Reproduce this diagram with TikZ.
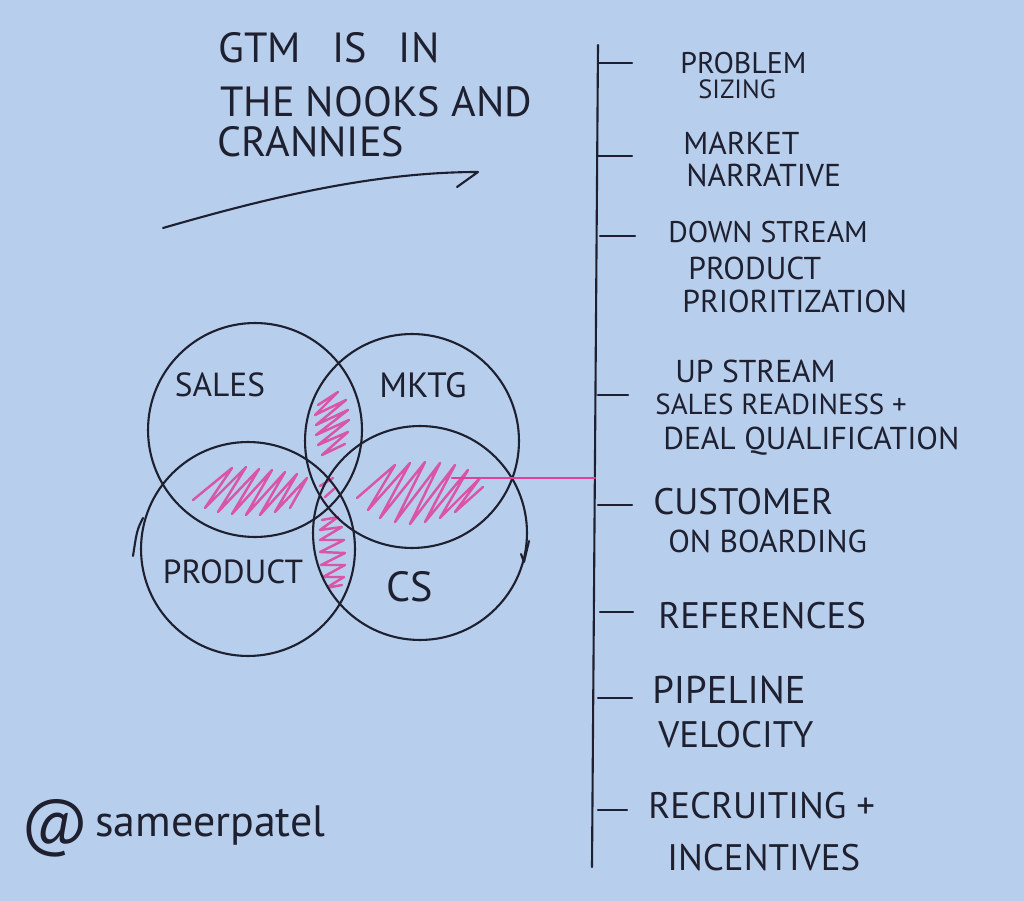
\documentclass[tikz,border=0pt]{standalone}
\usepackage{fontspec}
\setmainfont{PT Sans}
\definecolor{paper}{HTML}{B7CEEC}
\definecolor{ink}{HTML}{1E2030}
\definecolor{hl}{HTML}{E0409A}
\begin{document}
\begin{tikzpicture}[x=0.02cm,y=-0.02cm,line cap=round,line join=round,
  pen/.style={draw=ink,line width=1.2pt},
  ring/.style={circle,draw=ink,line width=1.2pt,inner sep=0pt,outer sep=0pt,minimum size=4.28cm},
  hatch/.style={draw=hl,line width=1.4pt,opacity=0.85},
  lbl/.style={text=ink,inner sep=0pt,anchor=base west,font=\fontsize{18}{20}\selectfont},
  lblbig/.style={lbl,font=\fontsize{21}{23}\selectfont},
  ttl/.style={text=ink,inner sep=0pt,anchor=base west,font=\fontsize{24}{26}\selectfont},
  venn/.style={text=ink,inner sep=0pt,font=\fontsize{19}{21}\selectfont}]
\fill[paper] (0,0) rectangle (1024,901);
\useasboundingbox (0,0) rectangle (1024,901);

% title
\node[ttl] (t1) at (218,63) {GTM\hspace{0.75em}IS\hspace{0.75em}IN};
\node[ttl] (t2) at (220,117) {THE NOOKS AND};
\node[ttl] (t3) at (217,157) {CRANNIES};
\coordinate (sw0) at (163,228);
\coordinate (sw1) at (478,172);
\coordinate (sw2) at (457,187);
\draw[pen] (sw0) .. controls (260,200) and (370,172) .. (sw1) -- (sw2);

% pink hatching
\begin{scope}
  \clip (255,430) circle [radius=107];
  \clip (248,549) circle [radius=108];
  \draw[hatch] plot coordinates {(193,500) (232,468) (205,508) (246,467) (218,512) (259,469) (232,514) (272,470) (246,515) (285,472) (260,515) (297,474) (275,512) (307,478) (290,508)};
\end{scope}
\begin{scope}
  \clip (412,441) circle [radius=107];
  \clip (420,533) circle [radius=107];
  \draw[hatch] plot coordinates {(357,498) (395,465) (368,510) (410,463) (380,518) (425,462) (395,522) (440,463) (410,524) (455,465) (425,522) (468,470) (440,518) (480,478) (455,512) (483,487)};
\end{scope}
\begin{scope}
  \clip (255,430) circle [radius=107];
  \clip (412,441) circle [radius=107];
  \draw[hatch] plot coordinates {(318,405) (338,392) (315,415) (346,400) (316,425) (348,410) (316,435) (349,420) (318,445) (348,432) (322,455) (345,444)};
\end{scope}
\begin{scope}
  \clip (248,549) circle [radius=108];
  \clip (420,533) circle [radius=107];
  \draw[hatch] plot coordinates {(322,520) (338,517) (320,530) (342,527) (320,540) (344,540) (320,552) (345,553) (321,565) (345,565) (323,577) (344,577) (326,588) (342,585)};
\end{scope}
\draw[hatch] (320,486) -- (333,478) (325,497) -- (334,489);

% circles
\node[ring] (sales) at (255,430) {};
\node[ring] (mktg) at (412,441) {};
\node[ring] (product) at (248,549) {};
\node[ring] (cs) at (420,533) {};
\draw[pen] (143,518) .. controls (137,530) .. (133,556);
\draw[pen] (529,541) .. controls (527,552) .. (524,562) -- (521,554);

\node[venn] (lsales) at (220,385) {SALES};
\node[venn,font=\fontsize{20}{22}\selectfont] (lmktg) at (423,385) {MKTG};
\node[venn] (lproduct) at (233,572) {PRODUCT};
\node[venn,font=\fontsize{24}{26}\selectfont] (lcs) at (410,587) {CS};

% timeline
\coordinate (vtop) at (598,45);
\coordinate (vbot) at (592,867);
\draw[pen] (vtop) -- (vbot);
\coordinate (pk0) at (452,478);
\coordinate (pk1) at (595,478);
\draw[draw=hl,line width=1.2pt] (pk0) -- (pk1);

\foreach \n/\y/\xa/\xb in {a/63/598/632, b/156/597/632, c/236/600/635, d/395/598/628, e/505/598/632, f/612/600/633, g/698/598/632, h/810/598/627}{
  \coordinate (tk\n0) at (\xa,\y);
  \coordinate (tk\n1) at (\xb,\y);
  \draw[pen] (tk\n0) -- (tk\n1);
}

\node[lbl,font=\fontsize{17}{19}\selectfont] (a1) at (680,74) {PROBLEM};
\node[lbl,font=\fontsize{15}{17}\selectfont] (a2) at (698,99) {SIZING};
\node[lbl] (b1) at (683,155) {MARKET};
\node[lbl] (b2) at (686,187) {NARRATIVE};
\node[lbl,font=\fontsize{17}{19}\selectfont] (c1) at (668,243) {DOWN STREAM};
\node[lbl] (c2) at (688,280) {PRODUCT};
\node[lbl] (c3) at (682,313) {PRIORITIZATION};
\node[lbl] (d1) at (675,383) {UP STREAM};
\node[lbl,font=\fontsize{16.5}{18}\selectfont] (d2) at (655,415) {SALES READINESS +};
\node[lbl] (d3) at (663,450) {DEAL QUALIFICATION};
\node[lblbig] (e1) at (653,515) {CUSTOMER};
\node[lbl] (e2) at (668,553) {ON BOARDING};
\node[lblbig] (f1) at (658,628) {REFERENCES};
\node[lblbig,font=\fontsize{22}{24}\selectfont] (g1) at (652,703) {PIPELINE};
\node[lblbig] (g2) at (658,747) {VELOCITY};
\node[lblbig] (h1) at (648,818) {RECRUITING +};
\node[lblbig] (h2) at (667,870) {INCENTIVES};

% signature
\node[text=ink,inner sep=0pt,font=\fontsize{36}{38}\selectfont] (at) at (55,828) {@};
\node[text=ink,inner sep=0pt,anchor=base west,font=\fontsize{25}{27}\selectfont] (sig) at (95,836) {sameerpatel};
\end{tikzpicture}
\end{document}
